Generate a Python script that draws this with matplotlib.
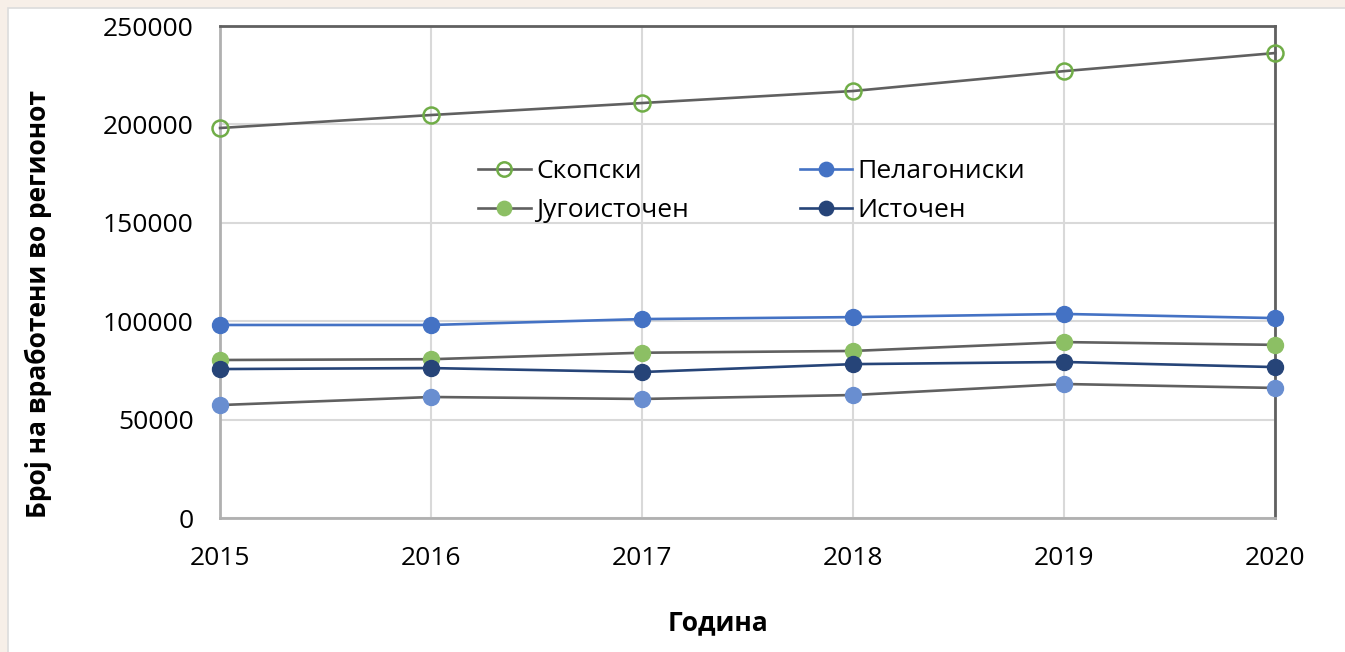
import matplotlib.pyplot as plt
from matplotlib.patches import Rectangle

plt.rcParams['font.family'] = ['Open Sans', 'DejaVu Sans']

godini = [2015, 2016, 2017, 2018, 2019, 2020]

# broj na vraboteni po region
skopski = [198200, 204800, 210900, 217000, 227100, 236300]
pelagoniski = [98100, 98100, 101100, 102100, 103700, 101600]
jugoistochen = [80300, 80700, 84000, 84900, 89400, 88000]
istochen = [75700, 76200, 74200, 78200, 79300, 76700]
petti = [57400, 61500, 60500, 62500, 68100, 66100]

y_ticks = [0, 50000, 100000, 150000, 200000, 250000]

fig = plt.figure(figsize=(13.45, 6.52), dpi=100)
fig.patch.set_facecolor('#f7efe8')
# bela pozadina so tenka granica
fig.patches.append(Rectangle((0.006, -0.01), 1.0, 0.998, transform=fig.transFigure,
                             facecolor='white', edgecolor='#dcdcdc', lw=1.2, zorder=-5))

ax = fig.add_axes([0.1636, 0.2055, 0.7845, 0.7545])
ax.set_zorder(2)

sivo = '#606060'
lw = 1.9
ms = 11.5
ax.plot(godini, skopski, color=sivo, lw=lw, marker='o', ms=ms, mfc='none',
        mec='#70ad47', mew=1.8, clip_on=False, zorder=5, label='Скопски')
ax.plot(godini, pelagoniski, color='#4472c4', lw=lw, marker='o', ms=ms,
        clip_on=False, zorder=5, label='Пелагониски')
ax.plot(godini, jugoistochen, color=sivo, lw=lw, marker='o', ms=ms,
        mfc='#8cbf64', mec='#8cbf64', clip_on=False, zorder=5, label='Југоисточен')
ax.plot(godini, istochen, color='#264478', lw=lw, marker='o', ms=ms,
        clip_on=False, zorder=5, label='Источен')
ax.plot(godini, petti, color=sivo, lw=lw, marker='o', ms=ms,
        mfc='#698ed0', mec='#698ed0', clip_on=False, zorder=5)

ax.set_xlim(2015, 2020)
ax.set_ylim(0, 250000)
ax.set_xticks(godini)
ax.set_yticks(y_ticks)
ax.tick_params(length=0, labelsize=19, colors='black')
ax.tick_params(axis='x', pad=20)
ax.tick_params(axis='y', pad=19)
ax.grid(True, color='#d9d9d9', lw=1.5)
ax.set_axisbelow(True)

for s in ['left', 'bottom']:
    ax.spines[s].set_color('#b0b0b0')
    ax.spines[s].set_linewidth(2)
for s in ['top', 'right']:
    ax.spines[s].set_color('#606060')
    ax.spines[s].set_linewidth(2)

ax.set_xlabel('Година', fontsize=19, fontweight='bold')
ax.xaxis.set_label_coords(0.472, -0.186)
ax.set_ylabel('Број на вработени во регионот', fontsize=19, fontweight='bold')
ax.yaxis.set_label_coords(-0.159, 0.435)

h, l = ax.get_legend_handles_labels()
order = [0, 2, 1, 3]
ax.legend([h[i] for i in order], [l[i] for i in order], ncol=2, frameon=False,
          fontsize=19, loc='upper left', bbox_to_anchor=(0.2445, 0.729),
          handlelength=2.0, handletextpad=0.2, columnspacing=4.2,
          labelspacing=0.53, borderpad=0, borderaxespad=0, markerscale=0.9)

fig.savefig('out.png', dpi=100)
